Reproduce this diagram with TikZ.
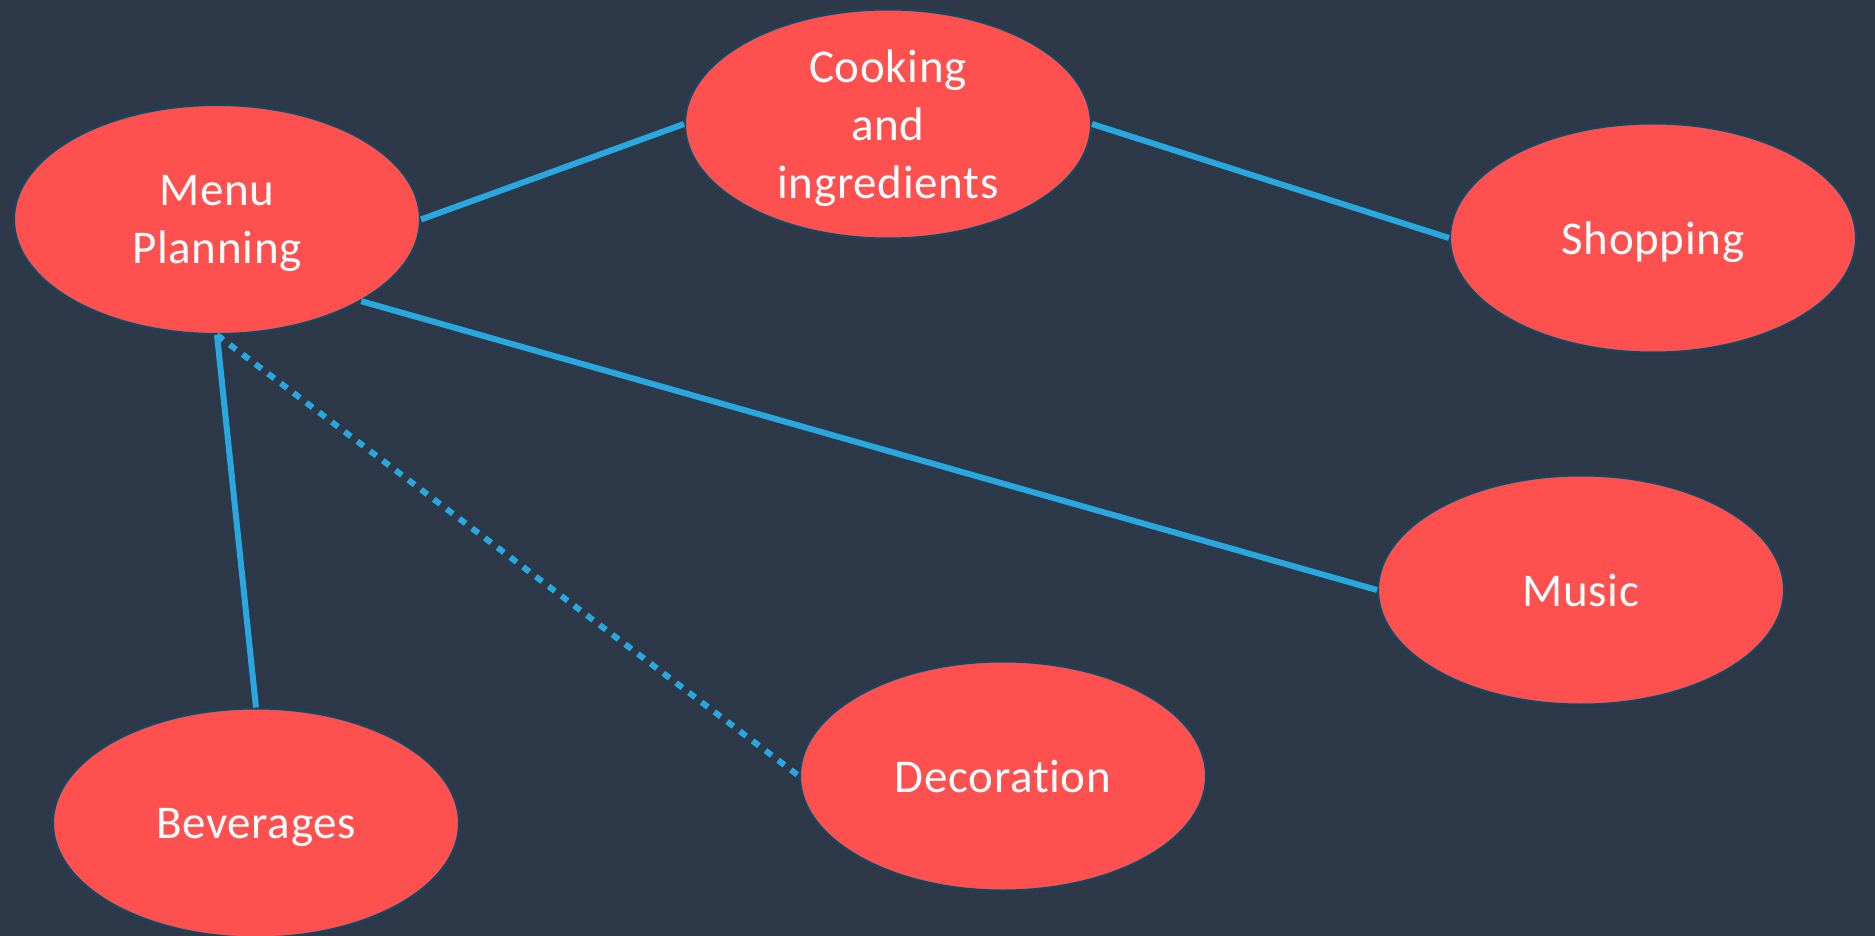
\documentclass[tikz,border=0pt]{standalone}
\usepackage{fontspec}
\setmainfont{Carlito}[Ligatures=NoCommon, LetterSpace=1.5]
\usetikzlibrary{shapes.geometric}
\definecolor{bgc}{HTML}{2D3849}
\definecolor{nodefill}{HTML}{FF5050}
\definecolor{nodeedge}{HTML}{0E4B63}
\definecolor{linkc}{HTML}{29A8E0}
\begin{document}
\begin{tikzpicture}[x=1pt,y=-1pt,
  topic/.style={ellipse, draw=nodeedge, line width=2pt, fill=nodefill,
    minimum width=406pt, minimum height=229pt, inner sep=0pt,
    text=white, align=center, text depth=0pt,
    font=\fontsize{47pt}{58pt}\selectfont},
  link/.style={draw=linkc, line width=6pt},
  dotlink/.style={draw=linkc, line width=6pt, dash pattern=on 8pt off 8pt}]
\fill[bgc] (0,0) rectangle (1875,936);
\useasboundingbox (0,0) rectangle (1875,936);
\node[topic] (menu) at (217,219.5) {Menu\\Planning};
\node[topic] (cook) at (888,124) {Cooking\\and\\ingredients};
\node[topic] (shop) at (1653,238) {Shopping};
\node[topic] (music) at (1581,590) {Music};
\node[topic] (deco) at (1003,776) {Decoration};
\node[topic] (bev) at (256,823) {Beverages};
\draw[link] (menu.east) -- (cook.west);
\draw[link] (cook.east) -- (shop.west);
\draw[link] (menu.south east) -- (music.west);
\draw[link] (menu.south) -- (bev.north);
\draw[dotlink] (menu.south) -- (deco.west);
\end{tikzpicture}
\end{document}
